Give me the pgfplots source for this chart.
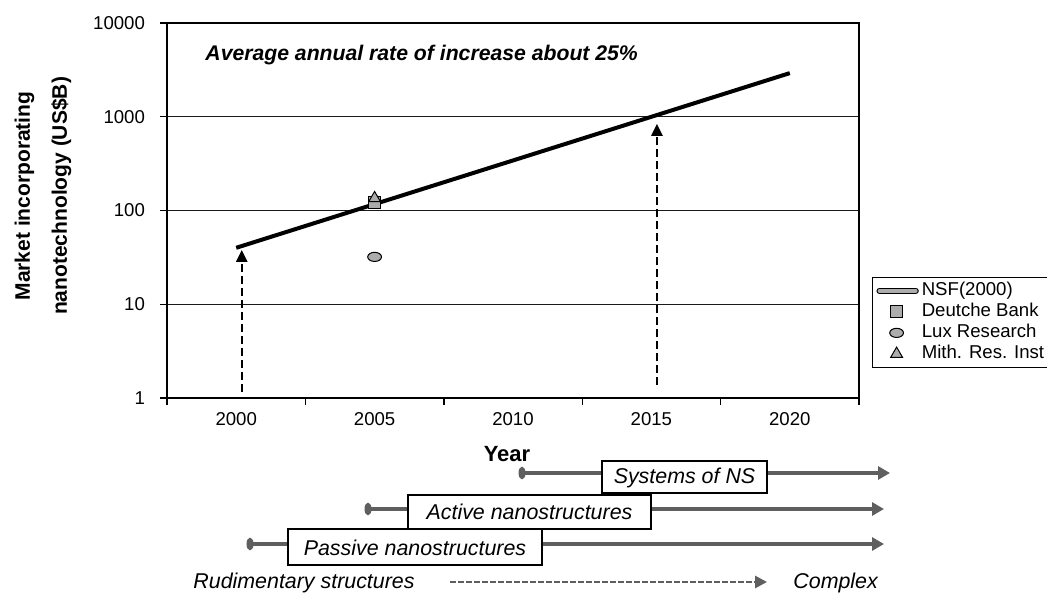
\documentclass[border=0pt]{standalone}
\usepackage{pgfplots}
\pgfplotsset{compat=1.18}
\usepackage{fontspec}
\setmainfont{Liberation Sans}
\usetikzlibrary{arrows.meta}
\definecolor{markgray}{RGB}{172,172,172}
\definecolor{tlgray}{RGB}{95,95,95}
\begin{document}
\begin{tikzpicture}
\begin{axis}[
    at={(0,0)}, anchor=south west,
    scale only axis, width=346pt, height=187.5pt,
    xmin=1997.5, xmax=2022.5,
    ymode=log, ymin=1, ymax=10000,
    xtick={1997.5,2002.5,2007.5,2012.5,2017.5,2022.5},
    x tick label as interval,
    xticklabels={2000,2005,2010,2015,2020},
    ytick={1,10,100,1000,10000},
    yticklabels={1,10,100,1000,10000},
    yminorticks=false,
    xtick pos=bottom, ytick pos=left,
    tick align=outside,
    major tick length=3.5pt,
    ymajorgrids, grid style={black!90, line width=0.65pt},
    axis line style={line width=0.7pt},
    tick style={black, line width=0.7pt},
    ticklabel style={font=\fontsize{9.3}{11}\selectfont},
    yticklabel style={xshift=-4pt},
    /pgf/number format/assume math mode=true,
    clip=false,
    legend style={at={(1.0188,0.3227)}, anchor=north west, draw=black,
        fill=white, font=\fontsize{9.3}{11}\selectfont,
        inner xsep=2pt, inner ysep=1.5pt, row sep=0pt,
        nodes={inner xsep=1.5pt, inner ysep=0.75pt, text height=7pt, text depth=2pt}},
    legend cell align=left,
    legend image code/.code={\draw[mark repeat=2,mark phase=2,#1]
        plot coordinates {(0pt,0pt) (9.5pt,0pt) (19pt,0pt)};},
]
% NSF(2000) projection line
\addplot[black, line width=2pt,
    legend image code/.code={
      \draw[line width=3.2pt, line cap=round, black] (1pt,0pt)--(19pt,0pt);
      \draw[line width=2pt, line cap=round, markgray] (1pt,0pt)--(19pt,0pt);}]
  coordinates {(2000,40) (2020,2920)};
\addlegendentry{NSF(2000)}
\addplot[only marks, mark=square*, mark size=3pt,
    mark options={fill=markgray, draw=black, line width=0.5pt}]
  coordinates {(2005,123)};
\addlegendentry{Deutche Bank}
\addplot[only marks, mark=*, mark size=2.3pt,
    mark options={xscale=1.5, fill=markgray, draw=black, line width=0.5pt}]
  coordinates {(2005,32)};
\addlegendentry{Lux Research}
\addplot[only marks, mark=triangle*, mark size=3.4pt,
    mark options={fill=markgray, draw=black, line width=0.5pt}]
  coordinates {(2005,135)};
\addlegendentry{Mith. Res. Inst}

\draw[black, line width=1.2pt, dash pattern=on 4pt off 2pt,
    -{Triangle[length=6pt,width=5.5pt]}]
    (axis cs:2000.2,1.16) -- (axis cs:2000.2,38);
\draw[black, line width=1.2pt, dash pattern=on 4pt off 2pt,
    -{Triangle[length=6pt,width=5.5pt]}]
    (axis cs:2015.2,1.38) -- (axis cs:2015.2,840);
\node[anchor=base west, inner sep=0pt,
    font=\bfseries\itshape\fontsize{10.6}{12}\selectfont]
    at (rel axis cs:0.055,0.899) {Average annual rate of increase about 25\%};
\end{axis}

% everything below the axis, in pixel units of the reference
\begin{scope}[x=0.5pt, y=-0.5pt, shift={(-83.5pt,199pt)}]
\node[rotate=90, align=center, font=\bfseries\fontsize{10.5}{18.5}\selectfont]
    at (43,196) {Market incorporating\\nanotechnology (US\$B)};
\node[anchor=base, inner sep=0pt, font=\bfseries\fontsize{11}{13}\selectfont]
    at (507,461) {Year};

% timeline rows
\draw[tlgray, line width=1.7pt, -{Triangle[length=6pt,width=6.5pt]}] (522,473) -- (890,473);
\fill[tlgray] (522,473) ellipse [x radius=1.75pt, y radius=3.2pt];
\draw[tlgray, line width=1.7pt, -{Triangle[length=6pt,width=6.5pt]}] (368,509) -- (884,509);
\fill[tlgray] (368,509) ellipse [x radius=1.75pt, y radius=3.2pt];
\draw[tlgray, line width=1.7pt, -{Triangle[length=6pt,width=6.5pt]}] (250,544) -- (884,544);
\fill[tlgray] (250,544) ellipse [x radius=1.75pt, y radius=3.2pt];

\draw[black, line width=0.6pt, fill=white] (602,461) rectangle (767,493);
\node[anchor=base, inner sep=0pt, font=\itshape\fontsize{10.7}{12}\selectfont]
    at (684.5,483) {Systems of NS};
\draw[black, line width=0.6pt, fill=white] (408,495) rectangle (651,529);
\node[anchor=base, inner sep=0pt, font=\itshape\fontsize{10.7}{12}\selectfont]
    at (529.5,519) {Active nanostructures};
\draw[black, line width=0.6pt, fill=white] (288,529) rectangle (542,565);
\node[anchor=base, inner sep=0pt, font=\itshape\fontsize{10.7}{12}\selectfont]
    at (415,555) {Passive nanostructures};

\node[anchor=base west, inner sep=0pt, font=\itshape\fontsize{10.7}{12}\selectfont]
    at (193,588) {Rudimentary structures};
\draw[tlgray, line width=1.4pt, dash pattern=on 3pt off 1pt,
    -{Triangle[length=6pt,width=6pt]}] (450,582) -- (767,582);
\node[anchor=base west, inner sep=0pt, font=\itshape\fontsize{10.7}{12}\selectfont]
    at (793,588) {Complex};
\end{scope}

\pgfresetboundingbox
\path (-83.5pt,-97.5pt) rectangle (440pt,199pt);
\end{tikzpicture}
\end{document}
